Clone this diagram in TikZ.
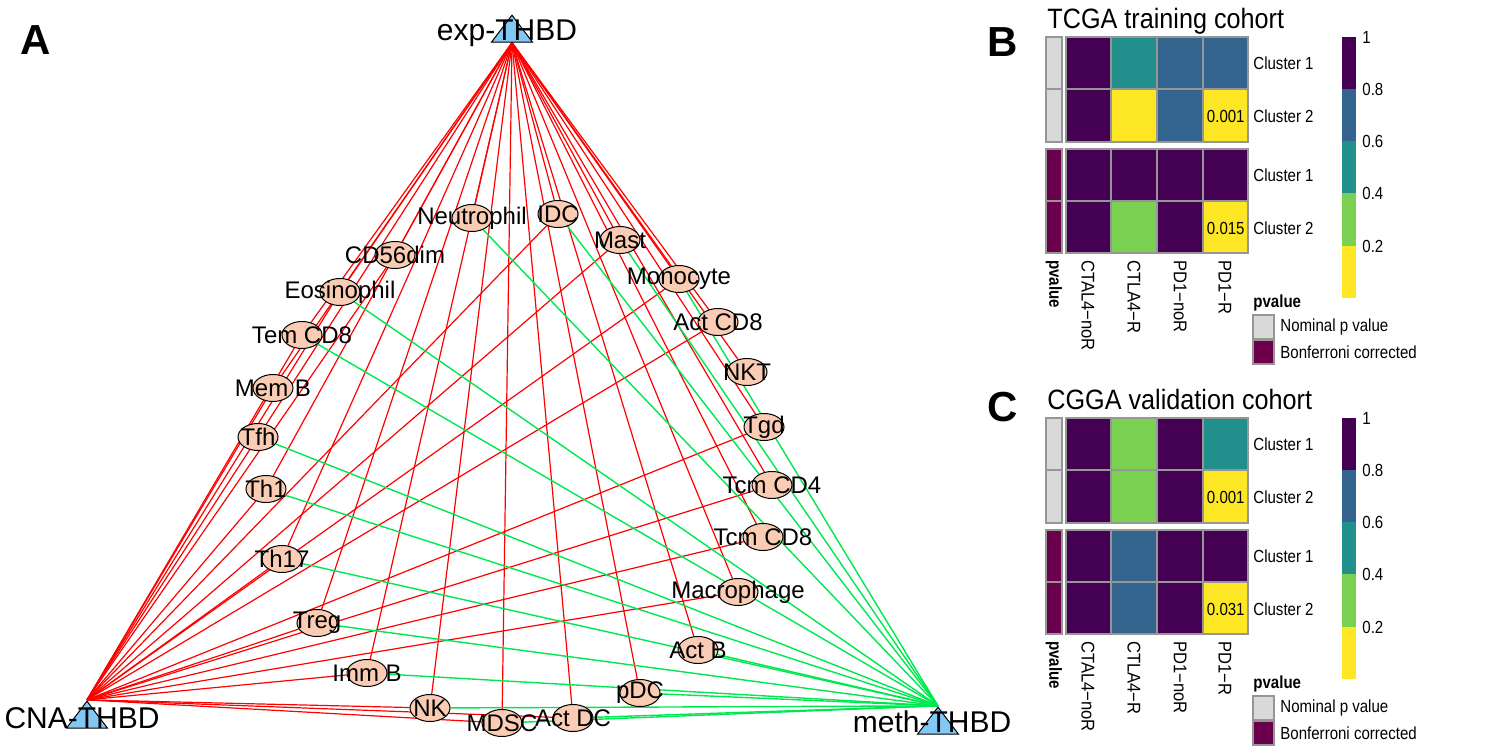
\documentclass[tikz,border=0pt]{standalone}
\usepackage{fontspec}
\setmainfont{Liberation Sans}
\newfontfamily\hmfont[FakeStretch=0.86]{Liberation Sans}
\newfontfamily\titlefont[FakeStretch=0.9]{Liberation Sans}
\usetikzlibrary{shapes.geometric,backgrounds}
\definecolor{cellfill}{RGB}{250,204,180}
\definecolor{hubfill}{RGB}{130,200,245}
\definecolor{posedge}{RGB}{255,0,0}
\definecolor{negedge}{RGB}{0,232,80}
\definecolor{vir1}{HTML}{440154}
\definecolor{vir2}{HTML}{32648E}
\definecolor{vir3}{HTML}{21908C}
\definecolor{vir4}{HTML}{7AD151}
\definecolor{vir5}{HTML}{FDE725}
\definecolor{nomgrey}{RGB}{217,217,217}
\definecolor{bonf}{RGB}{107,0,76}
\definecolor{gridgrey}{RGB}{150,150,150}
\tikzset{
  cell/.style={ellipse, draw, line width=0.5pt, fill=cellfill,
    minimum width=20pt, minimum height=13.5pt, inner sep=0pt},
  celltext/.style={font=\fontsize{12}{14}\selectfont, inner sep=0pt},
  hub/.style={isosceles triangle, isosceles triangle stretches,
    shape border rotate=90, draw, line width=0.5pt, fill=hubfill,
    minimum width=20.5pt, minimum height=13.5pt, inner sep=0pt},
  hubtext/.style={font=\fontsize{15}{17}\selectfont, inner sep=0pt},
  redlink/.style={draw=posedge, line width=0.6pt},
  greenlink/.style={draw=negedge, line width=0.7pt},
  hm/.style={draw=gridgrey, line width=0.9pt},
  hmtext/.style={font=\hmfont\fontsize{8.75}{10}\selectfont, inner sep=0pt},
  hmcol/.style={font=\titlefont\fontsize{9.2}{10}\selectfont, inner sep=0pt,
    rotate=-90, anchor=west},
  hmbold/.style={font=\hmfont\bfseries\fontsize{8.75}{10}\selectfont, inner sep=0pt},
  hmtitle/.style={font=\titlefont\fontsize{14}{16}\selectfont, inner sep=0pt},
  panel/.style={font=\bfseries\fontsize{21}{24}\selectfont, inner sep=0pt},
}
\begin{document}
\begin{tikzpicture}[x=0.5pt,y=-0.5pt]
  \useasboundingbox (0,0) rectangle (1499,755);
  % A: network
  \node[panel] (pa) at (36,40) {A};
  \node[hub] (exp) at (512,32) {};
  \node[hub] (cna) at (87,718) {};
  \node[hub] (meth) at (938,724) {};
  \node[hubtext] (expl) at (507,33) {exp-THBD};
  \node[hubtext] (cnal) at (82,718) {CNA-THBD};
  \node[hubtext] (methl) at (932,722) {meth-THBD};
  \node[cell, label={[celltext]center:Neutrophil}] (neut) at (472,218) {};
  \node[cell, label={[celltext]center:IDC}] (idc) at (558,214) {};
  \node[cell, label={[celltext]center:Mast}] (mast) at (620,240) {};
  \node[cell, label={[celltext]center:CD56dim}] (cdim) at (395,255) {};
  \node[cell, label={[celltext]center:Monocyte}] (mono) at (679,279) {};
  \node[cell, label={[celltext]center:Eosinophil}] (eos) at (340,292) {};
  \node[cell, label={[celltext]center:Act CD8}] (actcd) at (718,322) {};
  \node[cell, label={[celltext]center:Tem CD8}] (temcd) at (302,335) {};
  \node[cell, label={[celltext]center:NKT}] (nkt) at (747,372) {};
  \node[cell, label={[celltext]center:Mem B}] (memb) at (273,388) {};
  \node[cell, label={[celltext]center:Tgd}] (tgd) at (764,427) {};
  \node[cell, label={[celltext]center:Tfh}] (tfh) at (258,437) {};
  \node[cell, label={[celltext]center:Tcm CD4}] (tcmfour) at (772,485) {};
  \node[cell, label={[celltext]center:Th1}] (thone) at (266,489) {};
  \node[cell, label={[celltext]center:Tcm CD8}] (tcmeight) at (763,537) {};
  \node[cell, label={[celltext]center:Th17}] (thsev) at (282,559) {};
  \node[cell, label={[celltext]center:Macrophage}] (macro) at (738,592) {};
  \node[cell, label={[celltext]center:Treg}] (treg) at (317,623) {};
  \node[cell, label={[celltext]center:Act B}] (actb) at (698,650) {};
  \node[cell, label={[celltext]center:Imm B}] (immb) at (367,673) {};
  \node[cell, label={[celltext]center:pDC}] (pdc) at (640,693) {};
  \node[cell, label={[celltext]center:NK}] (nk) at (430,708) {};
  \node[cell, label={[celltext]center:MDSC}] (mdsc) at (502,723) {};
  \node[cell, label={[celltext]center:Act DC}] (actdc) at (573,718) {};
  \begin{pgfonlayer}{background}
    % exp-THBD
    \draw[redlink] (exp.lower side) to (neut);
    \draw[redlink] (exp.lower side) to (idc);
    \draw[redlink] (exp.lower side) to (mast);
    \draw[redlink] (exp.lower side) to (cdim);
    \draw[redlink] (exp.lower side) to (mono);
    \draw[redlink] (exp.lower side) to (eos);
    \draw[redlink] (exp.lower side) to (actcd);
    \draw[redlink] (exp.lower side) to (temcd);
    \draw[redlink] (exp.lower side) to (nkt);
    \draw[redlink] (exp.lower side) to (memb);
    \draw[redlink] (exp.lower side) to (tgd);
    \draw[redlink] (exp.lower side) to (tfh);
    \draw[redlink] (exp.lower side) to (tcmfour);
    \draw[redlink] (exp.lower side) to (thone);
    \draw[redlink] (exp.lower side) to (tcmeight);
    \draw[redlink] (exp.lower side) to (thsev);
    \draw[redlink] (exp.lower side) to (macro);
    \draw[redlink] (exp.lower side) to (treg);
    \draw[redlink] (exp.lower side) to (actb);
    \draw[redlink] (exp.lower side) to (immb);
    \draw[redlink] (exp.lower side) to (pdc);
    \draw[redlink] (exp.lower side) to (nk);
    \draw[redlink] (exp.lower side) to (mdsc);
    \draw[redlink] (exp.lower side) to (actdc);
    % CNA-THBD
    \draw[redlink] (cna.apex) to (idc);
    \draw[redlink] (cna.apex) to (mast);
    \draw[redlink] (cna.apex) to (cdim);
    \draw[redlink] (cna.apex) to (mono);
    \draw[redlink] (cna.apex) to (eos);
    \draw[redlink] (cna.apex) to (actcd);
    \draw[redlink] (cna.apex) to (temcd);
    \draw[redlink] (cna.apex) to (memb);
    \draw[redlink] (cna.apex) to (tgd);
    \draw[redlink] (cna.apex) to (tfh);
    \draw[redlink] (cna.apex) to (tcmfour);
    \draw[redlink] (cna.apex) to (thone);
    \draw[redlink] (cna.apex) to (tcmeight);
    \draw[redlink] (cna.apex) to (thsev);
    \draw[redlink] (cna.apex) to (macro);
    \draw[redlink] (cna.apex) to (treg);
    \draw[redlink] (cna.apex) to (immb);
    \draw[redlink] (cna.apex) to (nk);
    \draw[redlink] (cna.apex) to (mdsc);
    \draw[redlink] (cna.apex) to (actdc);
    % meth-THBD
    \draw[greenlink] (meth.apex) to (neut);
    \draw[greenlink] (meth.apex) to (idc);
    \draw[greenlink] (meth.apex) to (mast);
    \draw[greenlink] (meth.apex) to (mono);
    \draw[greenlink] (meth.apex) to (eos);
    \draw[greenlink] (meth.apex) to (temcd);
    \draw[greenlink] (meth.apex) to (tfh);
    \draw[greenlink] (meth.apex) to (thone);
    \draw[greenlink] (meth.apex) to (thsev);
    \draw[greenlink] (meth.apex) to (treg);
    \draw[greenlink] (meth.apex) to (actb);
    \draw[greenlink] (meth.apex) to (immb);
    \draw[greenlink] (meth.apex) to (pdc);
    \draw[greenlink] (meth.apex) to (nk);
    \draw[greenlink] (meth.apex) to (mdsc);
    \draw[greenlink] (meth.apex) to (actdc);
  \end{pgfonlayer}
  % B: TCGA heatmap
  \node[panel] (pb) at (1003,42) {B};
  \node[hmtitle, anchor=base west] (tb) at (1047,28) {TCGA training cohort};
  \filldraw[hm, fill=nomgrey] (1046,37) rectangle (1062,89);
  \filldraw[hm, fill=nomgrey] (1046,89) rectangle (1062,142);
  \filldraw[hm, fill=bonf] (1046,149) rectangle (1062,201);
  \filldraw[hm, fill=bonf] (1046,201) rectangle (1062,253);
  \filldraw[hm, fill=vir1] (1066,37) rectangle (1111,89);
  \filldraw[hm, fill=vir3] (1111,37) rectangle (1157,89);
  \filldraw[hm, fill=vir2] (1157,37) rectangle (1203,89);
  \filldraw[hm, fill=vir2] (1203,37) rectangle (1248,89);
  \filldraw[hm, fill=vir1] (1066,89) rectangle (1111,142);
  \filldraw[hm, fill=vir5] (1111,89) rectangle (1157,142);
  \filldraw[hm, fill=vir2] (1157,89) rectangle (1203,142);
  \filldraw[hm, fill=vir5] (1203,89) rectangle (1248,142);
  \filldraw[hm, fill=vir1] (1066,149) rectangle (1111,201);
  \filldraw[hm, fill=vir1] (1111,149) rectangle (1157,201);
  \filldraw[hm, fill=vir1] (1157,149) rectangle (1203,201);
  \filldraw[hm, fill=vir1] (1203,149) rectangle (1248,201);
  \filldraw[hm, fill=vir1] (1066,201) rectangle (1111,253);
  \filldraw[hm, fill=vir4] (1111,201) rectangle (1157,253);
  \filldraw[hm, fill=vir1] (1157,201) rectangle (1203,253);
  \filldraw[hm, fill=vir5] (1203,201) rectangle (1248,253);
  \node[hmtext, anchor=east] (bp1) at (1245,116) {0.001};
  \node[hmtext, anchor=east] (bp2) at (1245,228) {0.015};
  \node[hmtext, anchor=west] (br1) at (1253,63) {Cluster 1};
  \node[hmtext, anchor=west] (br2) at (1253,116) {Cluster 2};
  \node[hmtext, anchor=west] (br3) at (1253,175) {Cluster 1};
  \node[hmtext, anchor=west] (br4) at (1253,228) {Cluster 2};
  \node[hmbold, rotate=-90, anchor=west] (bc0) at (1054,260) {pvalue};
  \node[hmcol] (bc1) at (1088,260) {CTAL4−noR};
  \node[hmcol] (bc2) at (1134,260) {CTLA4−R};
  \node[hmcol] (bc3) at (1180,260) {PD1−noR};
  \node[hmcol] (bc4) at (1225,260) {PD1−R};
  \fill[vir1] (1342,37) rectangle (1356,89);
  \fill[vir2] (1342,89) rectangle (1356,141);
  \fill[vir3] (1342,141) rectangle (1356,193);
  \fill[vir4] (1342,193) rectangle (1356,246);
  \fill[vir5] (1342,246) rectangle (1356,298);
  \node[hmtext, anchor=west] (bk1) at (1362,37) {1};
  \node[hmtext, anchor=west] (bk2) at (1362,89) {0.8};
  \node[hmtext, anchor=west] (bk3) at (1362,141) {0.6};
  \node[hmtext, anchor=west] (bk4) at (1362,193) {0.4};
  \node[hmtext, anchor=west] (bk5) at (1362,246) {0.2};
  \node[hmbold, anchor=west] (bl0) at (1253,303) {pvalue};
  \filldraw[hm, fill=nomgrey] (1253,315) rectangle (1274,339);
  \filldraw[hm, fill=bonf] (1253,340) rectangle (1274,364);
  \node[hmtext, anchor=west] (bl1) at (1280,327) {Nominal p value};
  \node[hmtext, anchor=west] (bl2) at (1280,352) {Bonferroni corrected};
  % C: CGGA heatmap
  \begin{scope}[yshift=-190.5pt]
  \node[panel] (pc) at (1003,26) {C};
  \node[hmtitle, anchor=base west] (tc) at (1047,28) {CGGA validation cohort};
  \filldraw[hm, fill=nomgrey] (1046,37) rectangle (1062,89);
  \filldraw[hm, fill=nomgrey] (1046,89) rectangle (1062,142);
  \filldraw[hm, fill=bonf] (1046,149) rectangle (1062,201);
  \filldraw[hm, fill=bonf] (1046,201) rectangle (1062,253);
  \filldraw[hm, fill=vir1] (1066,37) rectangle (1111,89);
  \filldraw[hm, fill=vir4] (1111,37) rectangle (1157,89);
  \filldraw[hm, fill=vir1] (1157,37) rectangle (1203,89);
  \filldraw[hm, fill=vir3] (1203,37) rectangle (1248,89);
  \filldraw[hm, fill=vir1] (1066,89) rectangle (1111,142);
  \filldraw[hm, fill=vir4] (1111,89) rectangle (1157,142);
  \filldraw[hm, fill=vir1] (1157,89) rectangle (1203,142);
  \filldraw[hm, fill=vir5] (1203,89) rectangle (1248,142);
  \filldraw[hm, fill=vir1] (1066,149) rectangle (1111,201);
  \filldraw[hm, fill=vir2] (1111,149) rectangle (1157,201);
  \filldraw[hm, fill=vir1] (1157,149) rectangle (1203,201);
  \filldraw[hm, fill=vir1] (1203,149) rectangle (1248,201);
  \filldraw[hm, fill=vir1] (1066,201) rectangle (1111,253);
  \filldraw[hm, fill=vir2] (1111,201) rectangle (1157,253);
  \filldraw[hm, fill=vir1] (1157,201) rectangle (1203,253);
  \filldraw[hm, fill=vir5] (1203,201) rectangle (1248,253);
  \node[hmtext, anchor=east] (cp1) at (1245,116) {0.001};
  \node[hmtext, anchor=east] (cp2) at (1245,228) {0.031};
  \node[hmtext, anchor=west] (cr1) at (1253,63) {Cluster 1};
  \node[hmtext, anchor=west] (cr2) at (1253,116) {Cluster 2};
  \node[hmtext, anchor=west] (cr3) at (1253,175) {Cluster 1};
  \node[hmtext, anchor=west] (cr4) at (1253,228) {Cluster 2};
  \node[hmbold, rotate=-90, anchor=west] (cc0) at (1054,260) {pvalue};
  \node[hmcol] (cc1) at (1088,260) {CTAL4−noR};
  \node[hmcol] (cc2) at (1134,260) {CTLA4−R};
  \node[hmcol] (cc3) at (1180,260) {PD1−noR};
  \node[hmcol] (cc4) at (1225,260) {PD1−R};
  \fill[vir1] (1342,37) rectangle (1356,89);
  \fill[vir2] (1342,89) rectangle (1356,141);
  \fill[vir3] (1342,141) rectangle (1356,193);
  \fill[vir4] (1342,193) rectangle (1356,246);
  \fill[vir5] (1342,246) rectangle (1356,298);
  \node[hmtext, anchor=west] (ck1) at (1362,37) {1};
  \node[hmtext, anchor=west] (ck2) at (1362,89) {0.8};
  \node[hmtext, anchor=west] (ck3) at (1362,141) {0.6};
  \node[hmtext, anchor=west] (ck4) at (1362,193) {0.4};
  \node[hmtext, anchor=west] (ck5) at (1362,246) {0.2};
  \node[hmbold, anchor=west] (cl0) at (1253,303) {pvalue};
  \filldraw[hm, fill=nomgrey] (1253,315) rectangle (1274,339);
  \filldraw[hm, fill=bonf] (1253,340) rectangle (1274,364);
  \node[hmtext, anchor=west] (cl1) at (1280,327) {Nominal p value};
  \node[hmtext, anchor=west] (cl2) at (1280,352) {Bonferroni corrected};
  \end{scope}
\end{tikzpicture}
\end{document}
